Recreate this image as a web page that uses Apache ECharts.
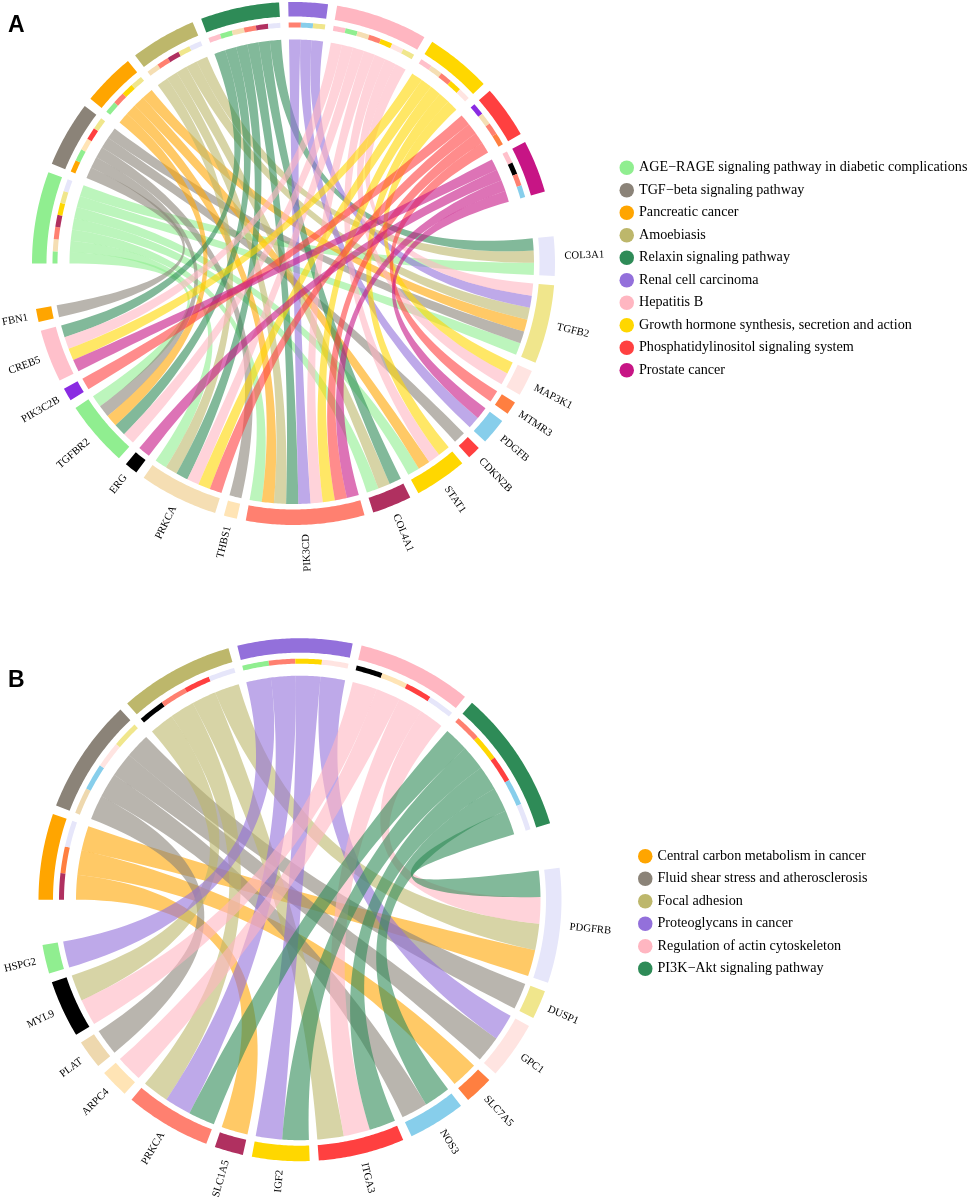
<!DOCTYPE html>
<html><head><meta charset="utf-8">
<style>html,body{margin:0;padding:0;background:#fff}#c{width:969px;height:1199px}</style>
<script src="https://cdn.jsdelivr.net/npm/echarts@6/dist/echarts.min.js"></script>
</head><body><div id="c"></div>
<script>
// ---- Panel A data ----
const termsA = ['AGE\u2212RAGE signaling pathway in diabetic complications','TGF\u2212beta signaling pathway','Pancreatic cancer','Amoebiasis','Relaxin signaling pathway','Renal cell carcinoma','Hepatitis B','Growth hormone synthesis, secretion and action','Phosphatidylinositol signaling system','Prostate cancer'];
const termColorsA = ['#90EE90','#8B8378','#FFA500','#BDB76B','#2E8B57','#9370DB','#FFB6C1','#FFD700','#FF4040','#C71585'];
const genesA = ['COL3A1','TGFB2','MAP3K1','MTMR3','PDGFB','CDKN2B','STAT1','COL4A1','PIK3CD','THBS1','PRKCA','ERG','TGFBR2','PIK3C2B','CREB5','FBN1'];
const geneColorsA = ['#E6E6FA','#F0E68C','#FFE4E1','#FF7F40','#87CEEB','#FF4040','#FFD700','#B03060','#FF8070','#FFE4B5','#F5DEB3','#000000','#90EE90','#8A2BE2','#FFC0CB','#FFA500'];
const linksA = [
  ['TGFBR2','PRKCA','PIK3CD','COL4A1','STAT1','TGFB2','COL3A1'],
  ['FBN1','TGFBR2','THBS1','CDKN2B','TGFB2'],
  ['TGFBR2','PIK3CD','STAT1','TGFB2'],
  ['PRKCA','PIK3CD','COL4A1','TGFB2','COL3A1'],
  ['CREB5','TGFBR2','PRKCA','PIK3CD','COL4A1','COL3A1'],
  ['PIK3CD','PDGFB','TGFB2'],
  ['CREB5','TGFBR2','PRKCA','PIK3CD','STAT1','MAP3K1','TGFB2'],
  ['CREB5','PRKCA','PIK3CD','STAT1','MAP3K1'],
  ['PIK3C2B','PRKCA','PIK3CD','MTMR3'],
  ['CREB5','ERG','PIK3CD','PDGFB']
];
// ---- Panel B data ----
const termsB = ['Central carbon metabolism in cancer','Fluid shear stress and atherosclerosis','Focal adhesion','Proteoglycans in cancer','Regulation of actin cytoskeleton','PI3K\u2212Akt signaling pathway'];
const termColorsB = ['#FFA500','#8B8378','#BDB76B','#9370DB','#FFB6C1','#2E8B57'];
const genesB = ['PDGFRB','DUSP1','GPC1','SLC7A5','NOS3','ITGA3','IGF2','SLC1A5','PRKCA','ARPC4','PLAT','MYL9','HSPG2'];
const geneColorsB = ['#E6E6FA','#F0E68C','#FFE4E1','#FF7F40','#87CEEB','#FF4040','#FFD700','#B03060','#FF8070','#FFE4B5','#EED8AE','#000000','#90EE90'];
const linksB = [
  ['SLC1A5','SLC7A5','PDGFRB'],
  ['PLAT','NOS3','GPC1','DUSP1'],
  ['MYL9','PRKCA','ITGA3','PDGFRB'],
  ['HSPG2','PRKCA','IGF2','GPC1'],
  ['MYL9','ARPC4','ITGA3','PDGFRB'],
  ['PRKCA','IGF2','ITGA3','NOS3','PDGFRB']
];
// ---- Drawing constants ----
const linkValue = 1, GAP = 2, BIG_GAP = 10, START = -90, SPREAD = 0.02;
const R = {termOut:261.5, termIn:247, stripOut:241, stripIn:236, termEnd:224, geneOut:261.5, geneIn:246, geneEnd:240.5, label:271};

function layout(terms, genes, links){
  const n = links.reduce((s,l)=>s+l.length,0)*linkValue;
  const u = (360-2*BIG_GAP-(terms.length+genes.length-2)*GAP)/(2*n);
  let a = START; const termArc=[], slots=[];
  links.forEach(l=>{ const s=a; const row=[];
    l.forEach(g=>{ row.push([a,a+u*linkValue,genes.indexOf(g)]); a+=u*linkValue; });
    termArc.push([s,a]); slots.push(row); a+=GAP; });
  a = a-GAP+BIG_GAP; const geneArc=[], geneSlot={};
  genes.forEach((g,gi)=>{ const s=a;
    for(let t=links.length-1;t>=0;t--){ if(links[t].includes(g)){ geneSlot[t+'|'+gi]=[a,a+u*linkValue]; a+=u*linkValue; } }
    geneArc.push([s,a]); a+=GAP; });
  return {termArc,slots,geneArc,geneSlot};
}
function arcPts(api,r,a0,a1){ const p=[]; const k=Math.max(2,Math.ceil(Math.abs(a1-a0)/0.5));
  for(let i=0;i<=k;i++){ p.push(api.coord([r,a0+(a1-a0)*i/k])); } return p; }
function band(api,r0,r1,a0,a1){ return arcPts(api,r1,a0,a1).concat(arcPts(api,r0,a1,a0)); }
function quad(p0,c,p1){ const p=[]; for(let i=1;i<48;i++){ const t=i/48,m=1-t;
  p.push([m*m*p0[0]+2*m*t*c[0]+t*t*p1[0], m*m*p0[1]+2*m*t*c[1]+t*t*p1[1]]); } return p; }
// ribbon: both edges bend through the centre, with the edge controls spread slightly to keep some width mid-way
function ribbon(api,t0,t1,g0,g1){
  const c=api.coord([0,0]);
  const ta=arcPts(api,R.termEnd,t0,t1), ga=arcPts(api,R.geneEnd,g0,g1);
  const A0=ta[ta.length-1],A1=ga[0],B0=ta[0],B1=ga[ga.length-1];
  const sx=(A0[0]-B0[0]+A1[0]-B1[0])*SPREAD, sy=(A0[1]-B0[1]+A1[1]-B1[1])*SPREAD;
  return ta.concat(quad(A0,[c[0]+sx,c[1]+sy],A1),ga,quad(B1,[c[0]-sx,c[1]-sy],B0));
}
function poly(points,fill,opacity){ return {type:'polygon',shape:{points},style:{fill,opacity:opacity==null?1:opacity},silent:true}; }

const series=[];
function panel(idx,terms,tColors,genes,gColors,links){
  const L=layout(terms,genes,links);
  terms.forEach((name,t)=>{
    const items=L.slots[t].map(s=>{ const gs=L.geneSlot[t+'|'+s[2]]; return [s[0],s[1],gs[0],gs[1],s[2]]; });
    series.push({type:'custom',name,coordinateSystem:'polar',polarIndex:idx,silent:true,animation:false,
      itemStyle:{color:tColors[t]},clip:false,data:items,
      renderItem(p,api){
        const a0=api.value(0),a1=api.value(1),g0=api.value(2),g1=api.value(3),gi=api.value(4);
        const ch=[poly(ribbon(api,a0,a1,g0,g1),tColors[t],0.6),
                  poly(band(api,R.stripIn,R.stripOut,a0,a1),gColors[gi])];
        if(p.dataIndex===0){ ch.push(poly(band(api,R.termIn,R.termOut,L.termArc[t][0],L.termArc[t][1]),tColors[t])); }
        return {type:'group',children:ch};
      }});
  });
  series.push({type:'custom',name:'genes'+idx,coordinateSystem:'polar',polarIndex:idx,silent:true,animation:false,clip:false,
    data:L.geneArc.map((a,i)=>[a[0],a[1],i]),
    renderItem(p,api){
      const a0=api.value(0),a1=api.value(1),i=api.value(2),mid=(a0+a1)/2;
      const right=mid<172; const rot=(right?90-mid:270-mid)*Math.PI/180; const pt=api.coord([R.label,mid]);
      return {type:'group',children:[
        poly(band(api,R.geneIn,R.geneOut,a0,a1),gColors[i]),
        {type:'text',x:pt[0],y:pt[1],rotation:rot,silent:true,style:{text:genes[i],x:0,y:0,align:right?'left':'right',verticalAlign:'middle',
          fill:'#000',font:'10.7px "Liberation Serif"'}}
      ]};
    }});
}
panel(0,termsA,termColorsA,genesA,geneColorsA,linksA);
panel(1,termsB,termColorsB,genesB,geneColorsB,linksB);

const legendBase={orient:'vertical',icon:'circle',itemWidth:14.5,itemHeight:14.5,itemGap:8,selectedMode:false,padding:0,
  textStyle:{fontFamily:'Liberation Serif',fontSize:14.16,lineHeight:14,color:'#000'}};
const chart=echarts.init(document.getElementById('c'),null,{renderer:'canvas'});
chart.setOption({
  backgroundColor:'#fff',animation:false,
  title:[{text:'A',left:8,top:14,padding:0,textStyle:{fontFamily:'Liberation Sans',fontWeight:'bold',fontSize:23,color:'#000'}},
         {text:'B',left:8,top:669,padding:0,textStyle:{fontFamily:'Liberation Sans',fontWeight:'bold',fontSize:23,color:'#000'}}],
  legend:[Object.assign({},legendBase,{data:termsA,left:619.5,top:160.5}),
          Object.assign({},legendBase,{data:termsB,left:638,top:849})],
  polar:[{center:[293.5,263.5],radius:300},{center:[300,899.7],radius:300}],
  angleAxis:[{polarIndex:0,type:'value',min:-90,max:270,startAngle:180,clockwise:true,show:false},
             {polarIndex:1,type:'value',min:-90,max:270,startAngle:180,clockwise:true,show:false}],
  radiusAxis:[{polarIndex:0,type:'value',min:0,max:300,show:false},
              {polarIndex:1,type:'value',min:0,max:300,show:false}],
  series
});
</script></body></html>
